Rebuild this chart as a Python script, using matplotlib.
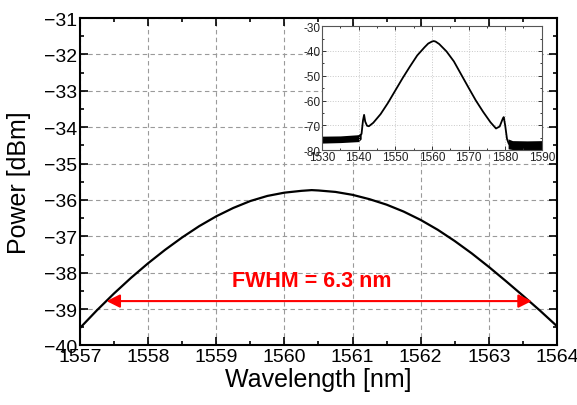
import matplotlib
matplotlib.use("Agg")
import matplotlib.pyplot as plt
from matplotlib.ticker import MultipleLocator, FuncFormatter

plt.rcParams['font.family'] = ['Liberation Sans', 'DejaVu Sans']
plt.rcParams['axes.unicode_minus'] = False

# main spectrum (zoom around the peak)
wl = [1557.0, 1557.25, 1557.5, 1557.75, 1558.0, 1558.25, 1558.5, 1558.75,
      1559.0, 1559.25, 1559.5, 1559.75, 1560.0, 1560.25, 1560.4, 1560.5,
      1560.75, 1561.0, 1561.25, 1561.5, 1561.75, 1562.0, 1562.25, 1562.5,
      1562.75, 1563.0, 1563.25, 1563.5, 1563.75, 1564.0]
power = [-39.52, -39.03, -38.57, -38.14, -37.74, -37.37, -37.03, -36.72,
         -36.45, -36.22, -36.03, -35.89, -35.80, -35.75, -35.73, -35.74,
         -35.78, -35.86, -35.98, -36.13, -36.32, -36.55, -36.82, -37.13,
         -37.47, -37.84, -38.23, -38.63, -39.04, -39.47]

# FWHM marker
fwhm_left = 1557.39
fwhm_right = 1563.63
fwhm_level = -38.78
fwhm_text = "FWHM = 6.3 nm"

# inset: full spectrum
wl_full = [1530, 1532, 1534, 1536, 1538, 1540, 1540.8, 1541.2, 1541.5, 1541.8,
           1542.3, 1542.8, 1544, 1546, 1548, 1550, 1552, 1554, 1556, 1558,
           1559, 1560, 1560.5, 1561, 1562, 1564, 1566, 1568, 1570, 1572,
           1574, 1576, 1577.5, 1578.5, 1579.3, 1579.6, 1580, 1580.5, 1581,
           1583, 1585, 1587, 1590]
power_full = [-75.6, -75.5, -75.3, -75.2, -75.0, -74.6, -73.5, -68.0, -65.8, -68.5,
              -70.2, -70.4, -69.0, -65.5, -61.0, -56.0, -51.0, -46.3, -41.8, -38.5,
              -37.0, -36.2, -36.0, -36.2, -37.2, -40.2, -44.2, -49.5, -54.8, -60.0,
              -64.6, -68.8, -71.3, -70.5, -67.5, -66.7, -70.0, -75.5, -77.5,
              -77.8, -77.8, -77.9, -77.8]

# noise floor bands in the inset
noise_l_x = [1530, 1535, 1540, 1540.7]
noise_l_lo = [-77.2, -77.0, -76.6, -75.5]
noise_l_hi = [-74.4, -74.3, -73.8, -73.0]
noise_r_x = [1580.8, 1582, 1586, 1590]
noise_r_lo = [-79.5, -79.8, -79.8, -79.8]
noise_r_hi = [-75.5, -76.2, -76.3, -76.2]

fig = plt.figure(figsize=(5.77, 4.06), dpi=100)
ax = fig.add_axes([0.1386, 0.1466, 0.8267, 0.8066])

ax.plot(wl, power, color='black', lw=1.6)
ax.annotate('', xy=(fwhm_left, fwhm_level), xytext=(fwhm_right, fwhm_level),
            arrowprops=dict(arrowstyle='<|-|>', color='red', lw=1.5,
                            mutation_scale=20, shrinkA=0, shrinkB=0))
ax.text(1560.4, -38.22, fwhm_text, color='red', fontsize=15.5,
        fontweight='bold', ha='center', va='center')

ax.set_xlim(1557, 1564)
ax.set_ylim(-40, -31)
ax.xaxis.set_major_locator(MultipleLocator(1))
ax.xaxis.set_minor_locator(MultipleLocator(0.5))
ax.yaxis.set_major_locator(MultipleLocator(1))
ax.yaxis.set_minor_locator(MultipleLocator(0.5))
ax.yaxis.set_major_formatter(FuncFormatter(lambda v, p: f"{v:.0f}".replace('-', '\u2212')))
ax.tick_params(which='both', direction='in', top=True, right=True,
               labelsize=14, width=1.2)
ax.tick_params(which='major', length=6, pad=2)
ax.tick_params(which='minor', length=3)
ax.grid(True, which='major', color='#9a9a9a', ls=(0, (4, 3)), lw=0.8)
for s in ax.spines.values():
    s.set_linewidth(1.5)
ax.set_xlabel('Wavelength [nm]', fontsize=18, labelpad=1)
ax.set_ylabel('Power [dBm]', fontsize=18)
ax.yaxis.set_label_coords(-0.102, 0.5)

# inset
axi = fig.add_axes([0.558, 0.628, 0.381, 0.305])
axi.fill_between(noise_l_x, noise_l_lo, noise_l_hi, color='black', lw=0)
axi.fill_between(noise_r_x, noise_r_lo, noise_r_hi, color='black', lw=0)
axi.plot(wl_full, power_full, color='black', lw=1.3)
axi.set_xlim(1530, 1590)
axi.set_ylim(-80, -30)
axi.xaxis.set_major_locator(MultipleLocator(10))
axi.xaxis.set_minor_locator(MultipleLocator(5))
axi.yaxis.set_major_locator(MultipleLocator(10))
axi.yaxis.set_minor_locator(MultipleLocator(5))
axi.tick_params(which='both', direction='in', top=True, right=True,
                labelsize=8.5, width=0.7, pad=1, colors='#333333',
                labelcolor='#222222')
axi.tick_params(which='major', length=3)
axi.tick_params(which='minor', length=1.5)
axi.grid(True, which='major', color='#c8c8c8', ls=':', lw=0.7)
for s in axi.spines.values():
    s.set_linewidth(0.8)
    s.set_color('#555555')

fig.savefig('out.png', dpi=100)
